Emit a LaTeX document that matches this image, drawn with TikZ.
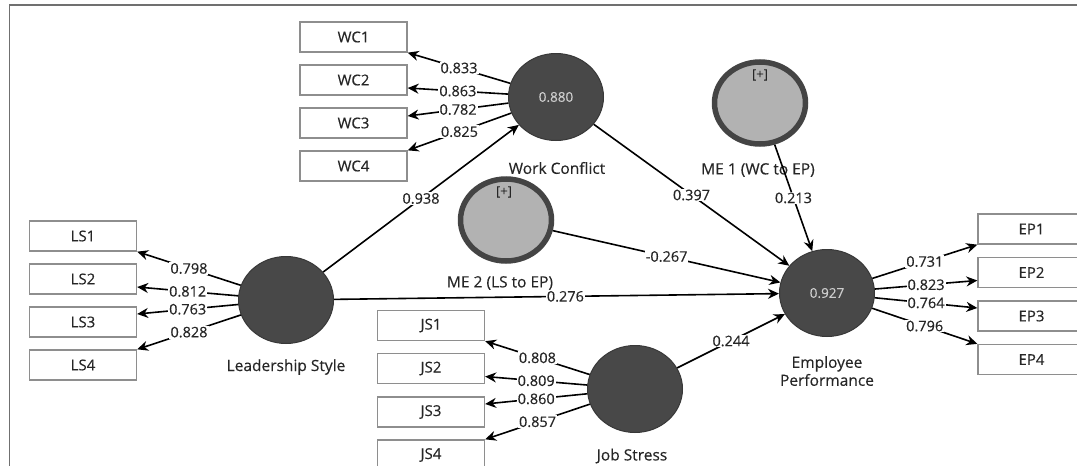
\documentclass[tikz,border=0pt]{standalone}
\usepackage{fontspec}
\setmainfont{Open Sans}[FakeBold=0.35]
\usetikzlibrary{shapes.geometric,arrows.meta,calc}
\definecolor{latfill}{HTML}{484848}
\definecolor{latdraw}{HTML}{383838}
\definecolor{modfill}{HTML}{B2B2B2}
\definecolor{moddraw}{HTML}{444444}
\definecolor{boxgray}{HTML}{8E8E8E}
\definecolor{txtgray}{HTML}{262626}
\definecolor{framegray}{HTML}{707070}
\begin{document}
\begin{tikzpicture}[x=1pt,y=-1pt,
  ind/.style={draw=boxgray, line width=1.3pt, minimum width=107pt, minimum height=30pt,
    inner sep=0pt, font=\fontsize{15}{17}\selectfont, text=txtgray},
  lat/.style={ellipse, fill=latfill, draw=latdraw, line width=1pt, minimum width=95pt,
    minimum height=87pt, inner sep=0pt, text=black!20, font=\fontsize{13.5}{15}\selectfont},
  modc/.style={ellipse, fill=modfill, draw=moddraw, line width=5.5pt, minimum width=91pt,
    minimum height=82pt, inner sep=0pt},
  conn/.style={draw=black, line width=1.6pt, -{Stealth[length=11pt,width=10pt]}},
  lbl/.style={fill=white, inner sep=1pt, font=\fontsize{14.5}{16}\selectfont, text=txtgray},
  cname/.style={font=\fontsize{15.5}{18}\selectfont, text=txtgray, align=center},
  plus/.style={font=\fontsize{13}{14}\selectfont, text=txtgray}
]
\useasboundingbox (0,0) rectangle (1077,466);
\draw[framegray, line width=1.5pt] (9.5,466) -- (9.5,5) -- (1077,5);

% indicator boxes
\node[ind] (wc1) at (353.5,37) {WC1};
\node[ind] (wc2) at (353.5,80) {WC2};
\node[ind] (wc3) at (353.5,123) {WC3};
\node[ind] (wc4) at (353.5,166) {WC4};
\node[ind] (ls1) at (83,236) {LS1};
\node[ind] (ls2) at (83,279) {LS2};
\node[ind] (ls3) at (83,322) {LS3};
\node[ind] (ls4) at (83,365) {LS4};
\node[ind] (js1) at (431,325.5) {JS1};
\node[ind] (js2) at (431,368.5) {JS2};
\node[ind] (js3) at (431,412) {JS3};
\node[ind] (js4) at (431,455) {JS4};
\node[ind] (ep1) at (1031.5,229) {EP1};
\node[ind] (ep2) at (1031.5,272.5) {EP2};
\node[ind] (ep3) at (1031.5,316) {EP3};
\node[ind] (ep4) at (1031.5,359.5) {EP4};

% construct names
\node[cname] (nwc) at (557,168) {Work Conflict};
\node[cname] (nls) at (286,367) {Leadership Style};
\node[cname] (njs) at (632,456) {Job Stress};
\node[cname] (nep) at (827,371) {Employee\\Performance};
\node[cname] (nme1) at (758,170) {ME 1 (WC to EP)};
\node[cname] (nme2) at (500,283) {ME 2 (LS to EP)};

% constructs
\node[lat] (wc) at (556,97) {0.880};
\node[lat] (ls) at (286,300) {};
\node[lat] (js) at (635,389) {};
\node[lat] (ep) at (827,293) {0.927};
\node[modc] (me1) at (760,103) {};
\node[modc] (me2) at (506,220) {};
\node[plus] (p1) at (760,75) {[+]};
\node[plus] (p2) at (504,192) {[+]};

% outer loadings
\draw[conn] (wc) -- node[lbl]{0.833} (wc1.south east);
\draw[conn] (wc) -- node[lbl]{0.863} ($(wc2.east)+(0,8)$);
\draw[conn] (wc) -- node[lbl]{0.782} ($(wc3.east)+(0,-7)$);
\draw[conn] (wc) -- node[lbl]{0.825} (wc4.north east);

\draw[conn] (ls) -- node[lbl]{0.798} (ls1.south east);
\draw[conn] (ls) -- node[lbl]{0.812} ($(ls2.east)+(0,8)$);
\draw[conn] (ls) -- node[lbl]{0.763} ($(ls3.east)+(0,-8)$);
\draw[conn] (ls) -- node[lbl]{0.828} (ls4.north east);

\draw[conn] (js) -- node[lbl]{0.808} (js1.south east);
\draw[conn] (js) -- node[lbl]{0.809} ($(js2.east)+(0,8)$);
\draw[conn] (js) -- node[lbl]{0.860} ($(js3.east)+(0,-8)$);
\draw[conn] (js) -- node[lbl]{0.857} (js4.north east);

\draw[conn] (ep) -- node[lbl]{0.731} (ep1.south west);
\draw[conn] (ep) -- node[lbl]{0.823} ($(ep2.west)+(0,8)$);
\draw[conn] (ep) -- node[lbl]{0.764} ($(ep3.west)+(0,-8)$);
\draw[conn] (ep) -- node[lbl]{0.796} (ep4.north west);

% structural paths
\draw[conn] (ls) -- node[lbl]{0.938} (wc);
\draw[conn] (wc) -- node[lbl]{0.397} (ep);
\draw[conn] (me1) -- node[lbl]{0.213} (ep);
\draw[conn] (me2) -- node[lbl]{-0.267} (ep);
\draw[conn] (ls) -- node[lbl, inner ysep=0pt, pos=0.52]{0.276} (ep);
\draw[conn] (js) -- node[lbl]{0.244} (ep);
\end{tikzpicture}
\end{document}
